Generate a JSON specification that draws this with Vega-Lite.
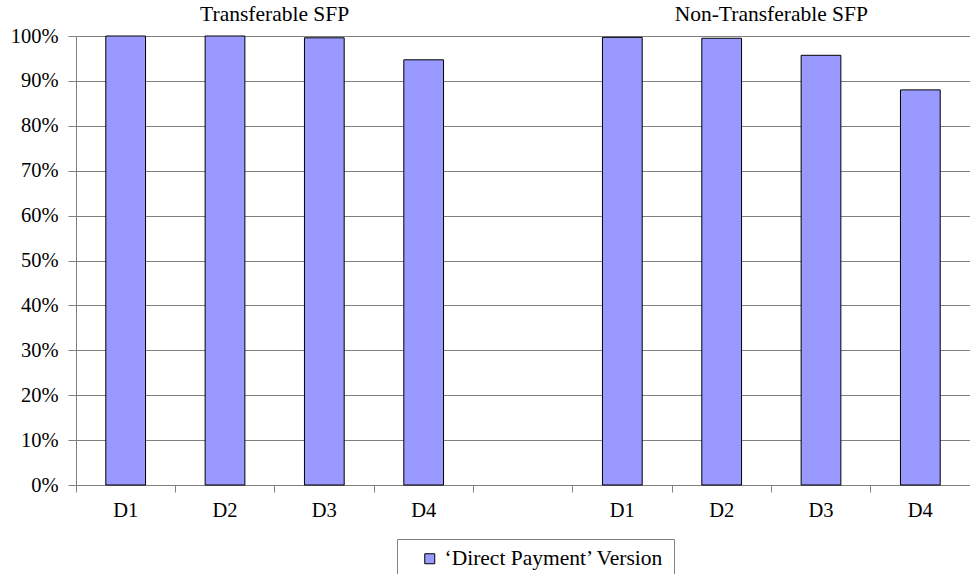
{
  "$schema": "https://vega.github.io/schema/vega-lite/v6.json",
  "width": 894,
  "height": 449,
  "autosize": {"type": "none"},
  "padding": {"left": 76, "top": 36, "right": 0, "bottom": 89},
  "background": "white",
  "config": {
    "view": {"stroke": null},
    "font": "Times New Roman",
    "axis": {"labelFont": "Times New Roman", "labelColor": "black"}
  },
  "datasets": {
    "bars": [
      {"cat": "T-D1", "value": 1.0, "series": "‘Direct Payment’ Version"},
      {"cat": "T-D2", "value": 1.0, "series": "‘Direct Payment’ Version"},
      {"cat": "T-D3", "value": 0.996, "series": "‘Direct Payment’ Version"},
      {"cat": "T-D4", "value": 0.947, "series": "‘Direct Payment’ Version"},
      {"cat": "N-D1", "value": 0.997, "series": "‘Direct Payment’ Version"},
      {"cat": "N-D2", "value": 0.995, "series": "‘Direct Payment’ Version"},
      {"cat": "N-D3", "value": 0.957, "series": "‘Direct Payment’ Version"},
      {"cat": "N-D4", "value": 0.88, "series": "‘Direct Payment’ Version"}
    ],
    "titles": [
      {"cat": "T-D2", "title": "Transferable SFP"},
      {"cat": "N-D2", "title": "Non-Transferable SFP"}
    ]
  },
  "layer": [
    {
      "data": {"name": "bars"},
      "mark": {"type": "bar", "stroke": "black", "strokeWidth": 1, "width": {"band": 0.4}},
      "encoding": {
        "x": {
          "field": "cat",
          "type": "nominal",
          "sort": null,
          "scale": {
            "domain": ["T-D1", "T-D2", "T-D3", "T-D4", "gap", "N-D1", "N-D2", "N-D3", "N-D4"],
            "paddingInner": 0,
            "paddingOuter": 0
          },
          "axis": {
            "title": null,
            "bandPosition": 0,
            "labelDx": 49.7,
            "labelAngle": 0,
            "labelAlign": "center",
            "labelFontSize": 20.5,
            "labelPadding": 8,
            "labelExpr": "datum.value == 'gap' ? '' : split(datum.value, '-')[1]",
            "domainColor": "#808080",
            "tickColor": "#808080",
            "tickSize": 7,
            "grid": false
          }
        },
        "y": {
          "field": "value",
          "type": "quantitative",
          "scale": {"domain": [0, 1], "nice": false},
          "axis": {
            "title": null,
            "values": [0, 0.1, 0.2, 0.3, 0.4, 0.5, 0.6, 0.7, 0.8, 0.9, 1.0],
            "format": ".0%",
            "labelFontSize": 20.5,
            "labelPadding": 10,
            "tickSize": 8,
            "tickColor": "#808080",
            "domainColor": "#808080",
            "grid": true,
            "gridColor": "#808080",
            "gridOpacity": 1
          }
        },
        "color": {
          "field": "series",
          "type": "nominal",
          "scale": {"range": ["#9999FF"]},
          "legend": {
            "title": null,
            "orient": "none",
            "legendX": 321,
            "legendY": 503,
            "strokeColor": "#808080",
            "padding": 9,
            "symbolOffset": 13,
            "symbolType": "square",
            "symbolSize": 100,
            "symbolStrokeColor": "black",
            "symbolStrokeWidth": 1,
            "symbolOpacity": 1,
            "labelFont": "Times New Roman",
            "labelFontSize": 21.5,
            "labelColor": "black",
            "labelOffset": 4,
            "labelLimit": 500,
            "fillColor": "white"
          }
        }
      }
    },
    {
      "data": {"name": "titles"},
      "mark": {"type": "text", "fontSize": 21.5, "font": "Times New Roman", "color": "black", "baseline": "middle", "align": "center"},
      "encoding": {
        "x": {"field": "cat", "type": "nominal", "sort": null, "bandPosition": 1},
        "y": {"datum": 1.046, "type": "quantitative"},
        "text": {"field": "title"}
      }
    }
  ]
}
